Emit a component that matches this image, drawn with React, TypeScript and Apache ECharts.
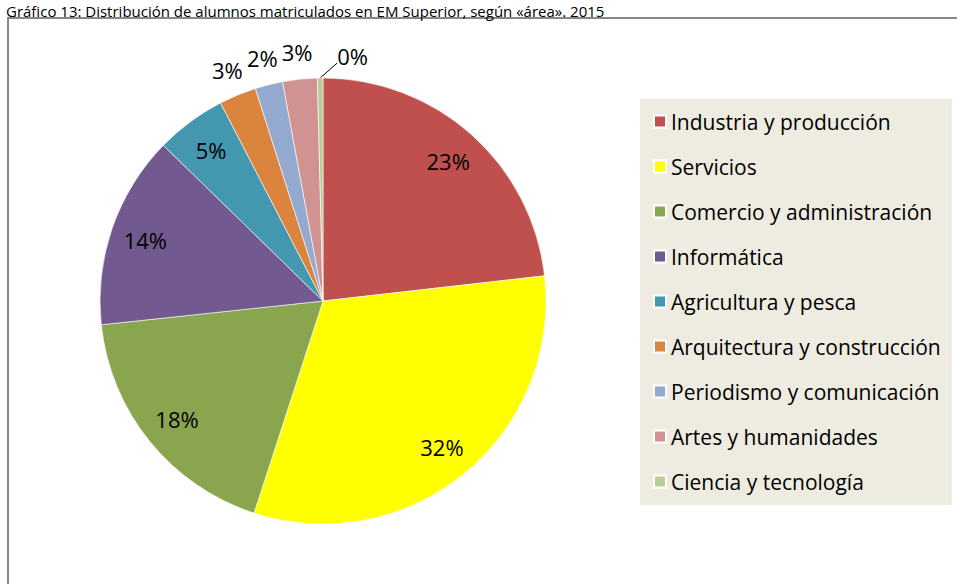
import React, { useEffect, useRef } from "react";
import * as echarts from "echarts";

const titleText = "Gráfico 13: Distribución de alumnos matriculados en EM Superior, según «área». 2015";
const categories = [
  "Industria y producción",
  "Servicios",
  "Comercio y administración",
  "Informática",
  "Agricultura y pesca",
  "Arquitectura y construcción",
  "Periodismo y comunicación",
  "Artes y humanidades",
  "Ciencia y tecnología",
];
const values = [23.2, 31.8, 18.3, 14.0, 5.1, 2.7, 2.0, 2.5, 0.4];
const colors = ["#C0504D", "#FFFF00", "#89A54E", "#72598F", "#4397AF", "#DB843D", "#93A9CF", "#D19392", "#B9CD96"];
const insideLabelIdx = [0, 1, 2, 3, 4];
const outsideLabelIdx = [5, 6, 7];
const leaderLabelIdx = [8];

const FONT = "'Open Sans', 'DejaVu Sans', sans-serif";

export default function App() {
  const ref = useRef<HTMLDivElement>(null);
  useEffect(() => {
    if (!ref.current) return;
    const chart = echarts.init(ref.current, undefined, { renderer: "svg" });
    const total = values.reduce((a, b) => a + b, 0);
    const fmt = (p: any) => Math.round((p.value / total) * 100) + "%";
    const labelStyle = { fontSize: 22, fontFamily: FONT, color: "#000" };
    const mkData = (showIdx: number[], visible: boolean) =>
      categories.map((name, i) => ({
        name,
        value: values[i],
        itemStyle: visible ? { color: colors[i] } : { color: "rgba(0,0,0,0)", borderWidth: 0 },
        label: { show: showIdx.includes(i) },
        labelLine: { show: showIdx.includes(i) },
      }));
    chart.setOption({
      animation: false,
      graphic: [
        {
          type: "rect",
          shape: { x: 8, y: 18, width: 1100, height: 800 },
          style: { fill: "none", stroke: "#878787", lineWidth: 2 },
          silent: true,
        },
        {
          type: "text",
          x: 6,
          y: 3,
          style: {
            text: titleText,
            font: "15px 'Open Sans', sans-serif",
            lineHeight: 15,
            fill: "#000",
            textAlign: "left",
            textVerticalAlign: "top",
          },
          silent: true,
        },
      ],
      legend: {
        orient: "vertical",
        left: 640,
        top: 99,
        padding: [12, 11, 13, 13],
        backgroundColor: "#EEECE1",
        icon: "rect",
        itemWidth: 12,
        itemHeight: 12,
        itemGap: 24,
        selectedMode: false,
        textStyle: { fontSize: 21, fontFamily: FONT, color: "#000", lineHeight: 20 },
        data: categories,
      },
      series: [
        {
          type: "pie",
          center: [323, 301],
          radius: 223,
          startAngle: 90,
          clockwise: true,
          avoidLabelOverlap: false,
          silent: true,
          itemStyle: { borderColor: "#ffffff", borderWidth: 0.6 },
          label: { position: "outside", formatter: fmt, ...labelStyle },
          labelLine: { length: 10, length2: 0, lineStyle: { color: "#000", width: 1 } },
          labelLayout: (params: any) => {
            if (!leaderLabelIdx.includes(params.dataIndex) || !params.labelLinePoints) return {};
            const p0 = params.labelLinePoints[0];
            return {
              x: p0[0] + 17,
              y: p0[1] - 22,
              align: "left",
              verticalAlign: "middle",
              labelLinePoints: [p0, [p0[0] + 17, p0[1] - 15]],
            };
          },
          data: mkData(leaderLabelIdx, true),
        },
        {
          type: "pie",
          center: [323, 301],
          radius: [148, 222],
          startAngle: 90,
          clockwise: true,
          avoidLabelOverlap: false,
          silent: true,
          legendHoverLink: false,
          label: { position: "inside", formatter: fmt, ...labelStyle },
          labelLine: { show: false },
          data: mkData(insideLabelIdx, false),
        },
        {
          type: "pie",
          center: [323, 301],
          radius: [223, 271],
          startAngle: 90,
          clockwise: true,
          avoidLabelOverlap: false,
          silent: true,
          legendHoverLink: false,
          label: { position: "inside", formatter: fmt, ...labelStyle },
          labelLine: { show: false },
          data: mkData(outsideLabelIdx, false),
        },
      ],
    });
    return () => chart.dispose();
  }, []);
  return (
    <div
      ref={ref}
      style={{ position: "fixed", left: 0, top: 0, width: 957, height: 584, background: "#fff" }}
    />
  );
}
